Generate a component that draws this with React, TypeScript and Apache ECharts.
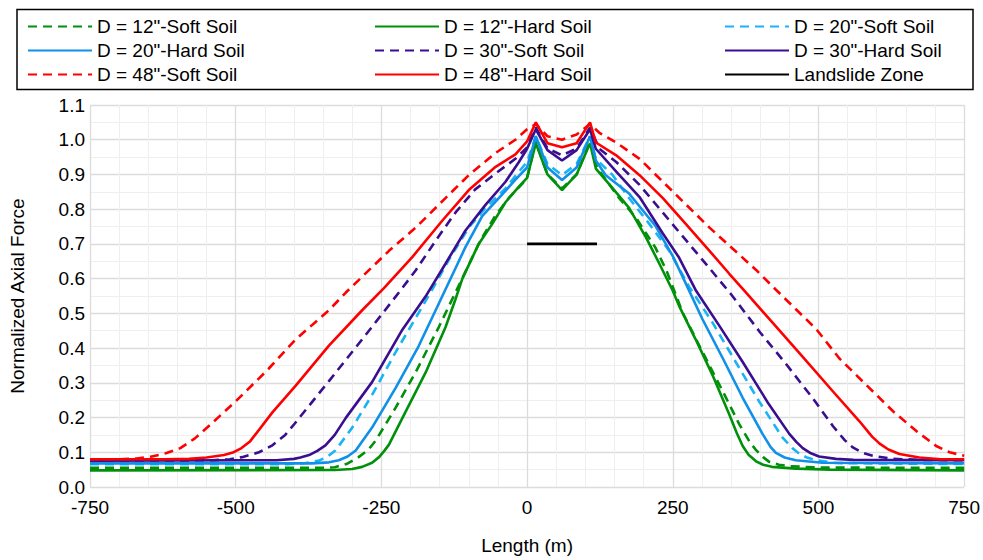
import React, { useEffect, useRef } from "react";
import * as echarts from "echarts";

type Pt = [number, number];

const xTicks = [-750, -500, -250, 0, 250, 500, 750];
const yMin = 0;
const yMax = 1.1;

const d12Soft: Pt[] = [[-750,0.055],[-350,0.055],[-330,0.057],[-310,0.066],[-289,0.086],[-272,0.108],[-260,0.133],[-226,0.227],[-191,0.331],[-151,0.462],[-123,0.56],[-100,0.64],[-80,0.71],[-55,0.78],[-30,0.835],[-10,0.87],[0,0.89],[15,0.995],[35,0.9],[60,0.86],[85,0.9],[108,0.995],[120,0.92],[158,0.832],[187,0.775],[220,0.69],[240,0.62],[267,0.502],[301,0.389],[336,0.275],[364,0.181],[382,0.13],[393,0.106],[405,0.086],[415,0.073],[432,0.064],[450,0.06],[500,0.056],[750,0.055]];
const d12Hard: Pt[] = [[-750,0.048],[-330,0.049],[-300,0.052],[-283,0.058],[-266,0.07],[-254,0.086],[-245,0.104],[-237,0.122],[-209,0.215],[-174,0.33],[-140,0.46],[-123,0.54],[-111,0.6],[-83,0.7],[-60,0.757],[-37,0.82],[-14,0.865],[0,0.89],[15,0.99],[35,0.9],[60,0.855],[85,0.9],[108,0.99],[118,0.917],[147,0.86],[175,0.804],[204,0.719],[227,0.643],[250,0.565],[261,0.521],[289,0.426],[318,0.323],[347,0.209],[360,0.155],[370,0.118],[380,0.093],[393,0.074],[405,0.064],[420,0.058],[461,0.053],[520,0.05],[750,0.048]];
const d20Soft: Pt[] = [[-750,0.066],[-410,0.066],[-380,0.069],[-357,0.076],[-342,0.088],[-329,0.105],[-300,0.171],[-266,0.265],[-226,0.387],[-180,0.519],[-163,0.568],[-134,0.655],[-100,0.747],[-71,0.804],[-37,0.86],[-14,0.908],[0,0.936],[15,1.01],[35,0.93],[60,0.898],[85,0.93],[108,1.01],[118,0.945],[147,0.898],[175,0.832],[210,0.757],[244,0.68],[278,0.577],[318,0.474],[358,0.36],[398,0.247],[438,0.143],[455,0.112],[467,0.096],[480,0.085],[496,0.077],[530,0.069],[750,0.066]];
const d20Hard: Pt[] = [[-750,0.068],[-370,0.068],[-340,0.071],[-323,0.077],[-308,0.088],[-294,0.105],[-266,0.171],[-226,0.284],[-186,0.406],[-151,0.53],[-120,0.64],[-106,0.69],[-77,0.78],[-43,0.842],[-20,0.885],[0,0.92],[15,1.01],[35,0.92],[60,0.884],[85,0.92],[108,1.01],[118,0.94],[135,0.898],[175,0.845],[221,0.75],[250,0.665],[267,0.605],[301,0.483],[336,0.37],[370,0.257],[404,0.153],[418,0.115],[427,0.098],[442,0.085],[461,0.077],[507,0.07],[750,0.068]];
const d30Soft: Pt[] = [[-750,0.076],[-540,0.077],[-510,0.08],[-489,0.086],[-460,0.1],[-437,0.12],[-415,0.15],[-400,0.18],[-340,0.305],[-283,0.425],[-220,0.56],[-191,0.624],[-157,0.709],[-123,0.79],[-89,0.857],[-54,0.903],[-20,0.945],[0,0.978],[15,1.035],[35,0.975],[60,0.955],[85,0.975],[108,1.035],[124,0.974],[153,0.936],[193,0.87],[233,0.79],[273,0.71],[313,0.63],[350,0.555],[400,0.445],[444,0.355],[490,0.256],[525,0.175],[545,0.135],[559,0.114],[575,0.099],[593,0.09],[628,0.081],[680,0.078],[750,0.077]];
const d30Hard: Pt[] = [[-750,0.076],[-430,0.077],[-400,0.081],[-389,0.085],[-374,0.092],[-360,0.104],[-346,0.12],[-330,0.15],[-311,0.199],[-266,0.302],[-214,0.453],[-174,0.549],[-140,0.643],[-106,0.738],[-71,0.813],[-37,0.879],[-14,0.936],[0,0.974],[15,1.03],[35,0.97],[60,0.94],[85,0.97],[108,1.03],[118,0.974],[153,0.908],[193,0.835],[233,0.73],[261,0.66],[290,0.565],[330,0.464],[370,0.36],[415,0.238],[450,0.153],[462,0.13],[473,0.112],[487,0.097],[501,0.088],[530,0.081],[560,0.078],[750,0.077]];
const d48Soft: Pt[] = [[-750,0.08],[-700,0.08],[-670,0.082],[-646,0.087],[-620,0.097],[-595,0.112],[-570,0.14],[-543,0.18],[-498,0.25],[-446,0.336],[-397,0.425],[-340,0.509],[-311,0.56],[-237,0.68],[-191,0.747],[-140,0.832],[-100,0.898],[-54,0.962],[-20,1.0],[0,1.03],[15,1.045],[35,1.01],[60,1.0],[85,1.015],[108,1.045],[124,1.02],[153,0.992],[193,0.945],[233,0.879],[273,0.813],[313,0.747],[353,0.686],[393,0.625],[427,0.568],[496,0.455],[536,0.37],[582,0.294],[628,0.218],[668,0.161],[702,0.118],[725,0.1],[750,0.09]];
const d48Hard: Pt[] = [[-750,0.08],[-620,0.08],[-580,0.081],[-550,0.085],[-520,0.092],[-505,0.099],[-490,0.112],[-475,0.132],[-437,0.215],[-397,0.292],[-340,0.407],[-283,0.509],[-246,0.572],[-197,0.662],[-146,0.766],[-100,0.855],[-54,0.922],[-20,0.958],[0,0.995],[15,1.05],[35,0.99],[60,0.978],[85,0.99],[108,1.05],[118,0.992],[153,0.955],[193,0.898],[233,0.832],[273,0.756],[313,0.68],[347,0.614],[375,0.561],[422,0.472],[467,0.386],[525,0.275],[570,0.19],[592,0.145],[605,0.125],[620,0.108],[639,0.095],[673,0.085],[710,0.08],[750,0.08]];
const landslide: Pt[] = [[0,0.7],[120,0.7]];

const names = [
  'D = 12"-Soft Soil', 'D = 12"-Hard Soil', 'D = 20"-Soft Soil',
  'D = 20"-Hard Soil', 'D = 30"-Soft Soil', 'D = 30"-Hard Soil',
  'D = 48"-Soft Soil', 'D = 48"-Hard Soil', 'Landslide Zone',
];
const datasets: Pt[][] = [d12Soft, d12Hard, d20Soft, d20Hard, d30Soft, d30Hard, d48Soft, d48Hard, landslide];
const colors = ['#00900a', '#00900a', '#1ab4f5', '#1090e8', '#3a0f8f', '#3a0f8f', '#ff0000', '#ff0000', '#000000'];
const dashed = [true, false, true, false, true, false, true, false, false];

const FONT = '"Liberation Sans", Arial, sans-serif';

export default function App() {
  const ref = useRef<HTMLDivElement>(null);
  useEffect(() => {
    const chart = echarts.init(ref.current!, null, { renderer: "svg" });
    const series: any[] = names.map((n, i) => ({
      name: n,
      type: "line",
      data: datasets[i],
      symbol: "none",
      showSymbol: false,
      smooth: false,
      color: colors[i],
      lineStyle: { color: colors[i], width: 2.6, type: dashed[i] ? [9, 6] : "solid" },
      itemStyle: { color: colors[i] },
      z: 2 + i,
    }));
    const legendBase = {
      orient: "vertical",
      top: 17,
      padding: 0,
      itemWidth: 64,
      itemHeight: 10,
      itemGap: 5,
      selectedMode: false,
      itemStyle: { opacity: 0 },
      textStyle: { fontSize: 19, fontFamily: FONT, color: "#000", lineHeight: 19 },
    };
    chart.setOption({
      animation: false,
      backgroundColor: "#fff",
      textStyle: { fontFamily: FONT },
      graphic: [
        {
          type: "rect",
          shape: { x: 17, y: 9.5, width: 956, height: 80 },
          style: { fill: "#fff", stroke: "#000", lineWidth: 1.5 },
          z: 0,
        },
      ],
      legend: [
        { ...legendBase, left: 27, data: [names[0], names[3], names[6]] },
        { ...legendBase, left: 374, data: [names[1], names[4], names[7]] },
        { ...legendBase, left: 724, data: [names[2], names[5], names[8]] },
      ],
      grid: { left: 90, right: 18, top: 105, bottom: 67, containLabel: false },
      xAxis: {
        type: "value",
        min: xTicks[0],
        max: xTicks[xTicks.length - 1],
        interval: 250,
        name: "Length (m)",
        nameLocation: "middle",
        nameGap: 49,
        nameTextStyle: { fontSize: 19, color: "#000", fontFamily: FONT },
        axisLine: { show: false },
        axisTick: { show: false },
        axisLabel: { fontSize: 19, color: "#000", margin: 11, fontFamily: FONT },
        splitLine: { show: true, lineStyle: { color: "#dcdcdc", width: 1.3 } },
        minorTick: { show: false, splitNumber: 5 },
        minorSplitLine: { show: true, lineStyle: { color: "#efefef", width: 1 } },
      },
      yAxis: {
        type: "value",
        min: yMin,
        max: yMax,
        interval: 0.1,
        name: "Normalized Axial Force",
        nameLocation: "middle",
        nameGap: 63,
        nameRotate: 90,
        nameTextStyle: { fontSize: 19, color: "#000", fontFamily: FONT },
        axisLine: { show: false },
        axisTick: { show: false },
        axisLabel: {
          fontSize: 19, color: "#000", margin: 5, fontFamily: FONT,
          formatter: (v: number) => v.toFixed(1),
        },
        splitLine: { show: true, lineStyle: { color: "#dcdcdc", width: 1.3 } },
        minorTick: { show: false, splitNumber: 2 },
        minorSplitLine: { show: true, lineStyle: { color: "#efefef", width: 1 } },
      },
      series,
    });
    return () => chart.dispose();
  }, []);
  return (
    <div
      ref={ref}
      style={{ position: "absolute", left: 0, top: 0, width: 983, height: 560 }}
    />
  );
}
